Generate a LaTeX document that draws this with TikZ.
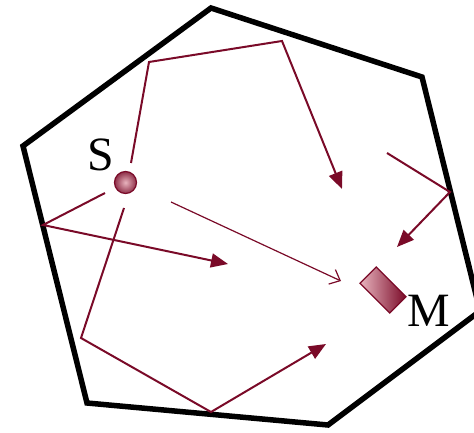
\documentclass[tikz,border=0pt]{standalone}
\usepackage{fontspec}
\setmainfont{Liberation Serif}
\usetikzlibrary{arrows.meta}
\definecolor{wine}{RGB}{122,10,40}
\definecolor{rose}{RGB}{232,180,190}
\begin{document}
\begin{tikzpicture}[x=1bp,y=-1bp,
  wall/.style={line width=5.5bp, line join=miter},
  ray/.style={wine, line width=2bp, line join=miter},
  rayarrow/.style={ray, -{Triangle[length=17bp,width=14bp]}},
  direct/.style={wine, line width=1.2bp, -{Straight Barb[length=9bp,width=16bp]}},
  lab/.style={font=\fontsize{48}{52}\selectfont, inner sep=0pt}]
\useasboundingbox (0,0) rectangle (474,433);
\clip (0,0) rectangle (474,433);
% room walls
\coordinate (w1) at (211,8);
\coordinate (w2) at (422,77);
\coordinate (w3) at (480,311);
\coordinate (w4) at (328,425);
\coordinate (w5) at (87,403);
\coordinate (w6) at (23,146);
\draw[wall] (w1) -- (w2) -- (w3) -- (w4) -- (w5) -- (w6) -- cycle;
% source and microphone
\node[circle, minimum size=22bp, inner sep=0pt, draw=wine, line width=1.2bp,
      inner color=rose, outer color=wine!85] (S) at (125.5,182.5) {};
\node[lab] (Slab) at (101,155) {S};
\node[rectangle, minimum width=42bp, minimum height=23bp, inner sep=0pt,
      draw=wine, line width=1.2bp, rotate=-45,
      left color=rose, right color=wine] (M) at (383,290) {};
\node[lab] (Mlab) at (429,311) {M};
% ray 1
\coordinate (a0) at (131,163);
\coordinate (a1) at (149,62);
\coordinate (a2) at (282,41);
\coordinate (a3) at (342,189);
\draw[rayarrow] (a0) -- (a1) -- (a2) -- (a3);
% ray 2
\coordinate (b0) at (105,193);
\coordinate (b1) at (43,225);
\coordinate (b2) at (228,264);
\draw[rayarrow] (b0) -- (b1) -- (b2);
% ray 3
\coordinate (c0) at (124,208);
\coordinate (c1) at (81,338);
\coordinate (c2) at (211,412);
\coordinate (c3) at (326,344);
\draw[rayarrow] (c0) -- (c1) -- (c2) -- (c3);
% direct sound
\coordinate (d0) at (171,202);
\coordinate (d1) at (341,281);
\draw[direct] (d0) -- (d1);
% ray 5
\coordinate (e0) at (387,153);
\coordinate (e1) at (450,192);
\coordinate (e2) at (397,247);
\draw[rayarrow] (e0) -- (e1) -- (e2);
\end{tikzpicture}
\end{document}
